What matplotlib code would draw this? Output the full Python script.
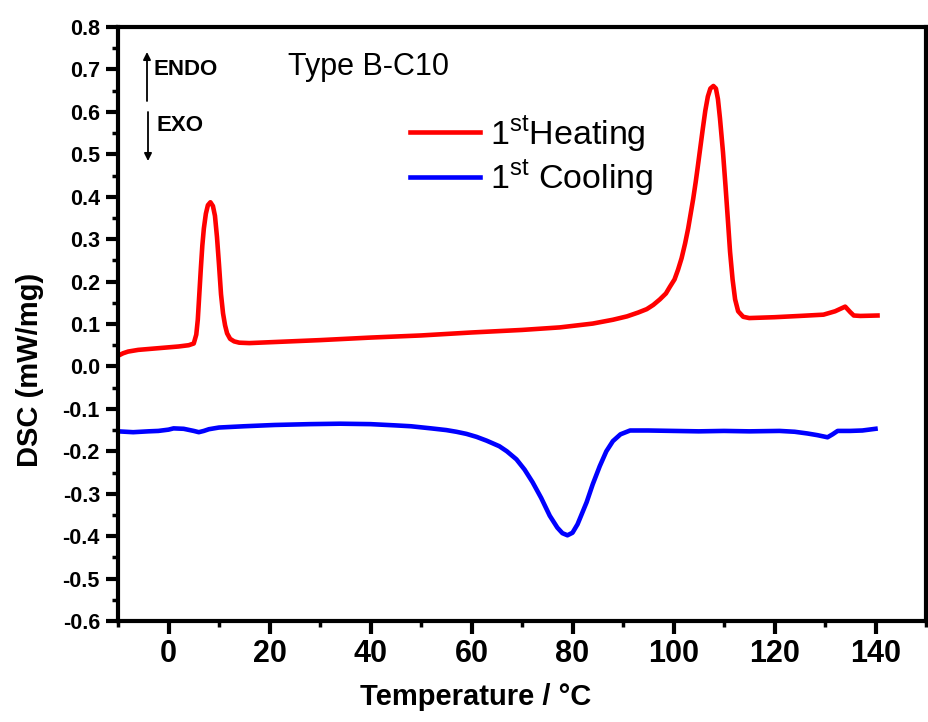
import matplotlib
matplotlib.use("Agg")
import matplotlib.pyplot as plt
from matplotlib.ticker import MultipleLocator

plt.rcParams['font.family'] = ['Liberation Sans', 'DejaVu Sans']
plt.rcParams['mathtext.fontset'] = 'custom'
plt.rcParams['mathtext.rm'] = 'Liberation Sans'

# ---- data ----
heat_T = [-10, -9, -8, -6, -4, -2, 0, 2, 4, 5, 5.5, 5.8, 6.1, 6.4, 6.7, 7.0, 7.4, 7.8,
          8.3, 8.8, 9.2, 9.6, 10.0, 10.4, 10.8, 11.2, 11.6, 12.2, 13, 14, 16, 20, 30,
          40, 50, 60, 70, 77.5, 84, 88, 90.8, 93, 94.7, 96, 97.3, 98.5, 99.3, 100.2,
          100.9, 101.6, 102.3, 102.9, 103.4, 103.9, 104.4, 104.8, 105.3, 105.8, 106.3,
          106.8, 107.3, 107.9, 108.4, 108.8, 109.2, 109.8, 110.3, 110.8, 111.2, 111.7,
          112.2, 112.8, 113.8, 115, 120, 125, 129.7, 132, 134, 135, 135.7, 137, 140.4]
heat_dsc = [0.025, 0.031, 0.035, 0.039, 0.041, 0.043, 0.045, 0.047, 0.050, 0.054,
            0.075, 0.110, 0.170, 0.230, 0.285, 0.325, 0.360, 0.380, 0.387, 0.378,
            0.355, 0.305, 0.240, 0.170, 0.125, 0.097, 0.078, 0.065, 0.059, 0.056,
            0.055, 0.057, 0.062, 0.068, 0.073, 0.080, 0.086, 0.092, 0.101, 0.110,
            0.118, 0.127, 0.135, 0.145, 0.158, 0.172, 0.188, 0.205, 0.228, 0.255,
            0.290, 0.325, 0.360, 0.395, 0.435, 0.470, 0.515, 0.560, 0.603, 0.636,
            0.655, 0.661, 0.655, 0.630, 0.585, 0.505, 0.425, 0.340, 0.270, 0.205,
            0.158, 0.130, 0.117, 0.114, 0.116, 0.119, 0.122, 0.130, 0.141, 0.128,
            0.120, 0.119, 0.120]

cool_T = [-10, -7, -4, -2, 0, 1, 3, 5, 6, 7, 8, 10, 15, 21, 28, 34, 40, 45, 48, 52, 55,
          57, 59, 61, 63, 65.5, 67, 68.9, 70.5, 72.1, 73.8, 75.5, 77, 78, 79, 80, 81,
          82.8, 84, 85.4, 86.7, 88, 89.5, 91.4, 95, 100, 105, 110, 115, 121, 124,
          126.5, 128.5, 130.5, 131.5, 132.5, 135, 137.4, 140]
cool_dsc = [-0.153, -0.155, -0.153, -0.152, -0.149, -0.146, -0.147, -0.152, -0.155,
            -0.152, -0.148, -0.144, -0.141, -0.138, -0.136, -0.135, -0.136, -0.139,
            -0.141, -0.146, -0.150, -0.154, -0.159, -0.166, -0.175, -0.188, -0.200,
            -0.219, -0.243, -0.273, -0.310, -0.352, -0.380, -0.393, -0.398, -0.392,
            -0.372, -0.320, -0.278, -0.235, -0.200, -0.176, -0.160, -0.151, -0.151,
            -0.152, -0.153, -0.152, -0.153, -0.152, -0.154, -0.158, -0.162, -0.167,
            -0.160, -0.152, -0.152, -0.151, -0.147]

x_ticks = [0, 20, 40, 60, 80, 100, 120, 140]
y_ticks = [-0.6, -0.5, -0.4, -0.3, -0.2, -0.1, 0.0, 0.1, 0.2, 0.3, 0.4, 0.5, 0.6, 0.7, 0.8]

W, H = 929, 722
fig = plt.figure(figsize=(W / 100, H / 100), dpi=100)
ax = fig.add_axes([118 / W, 1 - 621 / H, (926 - 118) / W, (621 - 27) / H])

def fp(x, y):
    return (x / W, 1 - y / H)

l1, = ax.plot(heat_T, heat_dsc, color='#ff0000', lw=3.3, solid_joinstyle='round')
l2, = ax.plot(cool_T, cool_dsc, color='#0000ff', lw=3.3, solid_joinstyle='round')

ax.set_xlim(-10, 150)
ax.set_ylim(-0.6, 0.8)
ax.set_xticks(x_ticks)
ax.set_xticklabels([str(v) for v in x_ticks])
ax.set_yticks(y_ticks)
ax.set_yticklabels(['%.1f' % v for v in y_ticks])
ax.xaxis.set_minor_locator(MultipleLocator(10))
ax.yaxis.set_minor_locator(MultipleLocator(0.05))

for s in ax.spines.values():
    s.set_linewidth(3)
ax.tick_params(axis='both', which='major', direction='out', length=9, width=3,
               top=False, right=False)
ax.tick_params(axis='both', which='minor', direction='out', length=4.5, width=2.5,
               top=False, right=False)
ax.tick_params(axis='x', which='major', labelsize=22, pad=4)
ax.tick_params(axis='y', which='major', labelsize=15.5, pad=4)
for lab in ax.get_xticklabels() + ax.get_yticklabels():
    lab.set_fontweight('bold')

ax.set_xlabel('Temperature / °C', fontsize=21, fontweight='bold')
ax.set_ylabel('DSC (mW/mg)', fontsize=21, fontweight='bold')
ax.xaxis.set_label_coords(*ax.transAxes.inverted().transform(fig.transFigure.transform(fp(476, 697))))
ax.xaxis.label.set_va('center')
ax.yaxis.set_label_coords(*ax.transAxes.inverted().transform(fig.transFigure.transform(fp(30, 370))))
ax.yaxis.label.set_va('center')

# annotations
fig.text(*fp(288, 75), 'Type B-C10', fontsize=22, ha='left', va='baseline')
fig.text(*fp(154, 75), 'ENDO', fontsize=16, fontweight='bold', ha='left', va='baseline')
fig.text(*fp(157, 131), 'EXO', fontsize=16, fontweight='bold', ha='left', va='baseline')
ax.annotate('', xy=fp(147, 52), xytext=fp(147, 101), xycoords='figure fraction',
            textcoords='figure fraction',
            arrowprops=dict(arrowstyle='-|>', lw=1.3, color='black', mutation_scale=11,
                            shrinkA=0, shrinkB=0))
ax.annotate('', xy=fp(148, 161), xytext=fp(148, 112), xycoords='figure fraction',
            textcoords='figure fraction',
            arrowprops=dict(arrowstyle='-|>', lw=1.3, color='black', mutation_scale=11,
                            shrinkA=0, shrinkB=0))

leg = ax.legend([l1, l2], ['1$^{\\mathrm{st}}$Heating', '1$^{\\mathrm{st}}$ Cooling'],
                loc='upper left', bbox_to_anchor=fp(410, 113),
                bbox_transform=fig.transFigure, frameon=False, fontsize=24.5,
                handlelength=2.05, handletextpad=0.3, labelspacing=0.1,
                borderpad=0, borderaxespad=0)

fig.savefig('out.png', dpi=100)
